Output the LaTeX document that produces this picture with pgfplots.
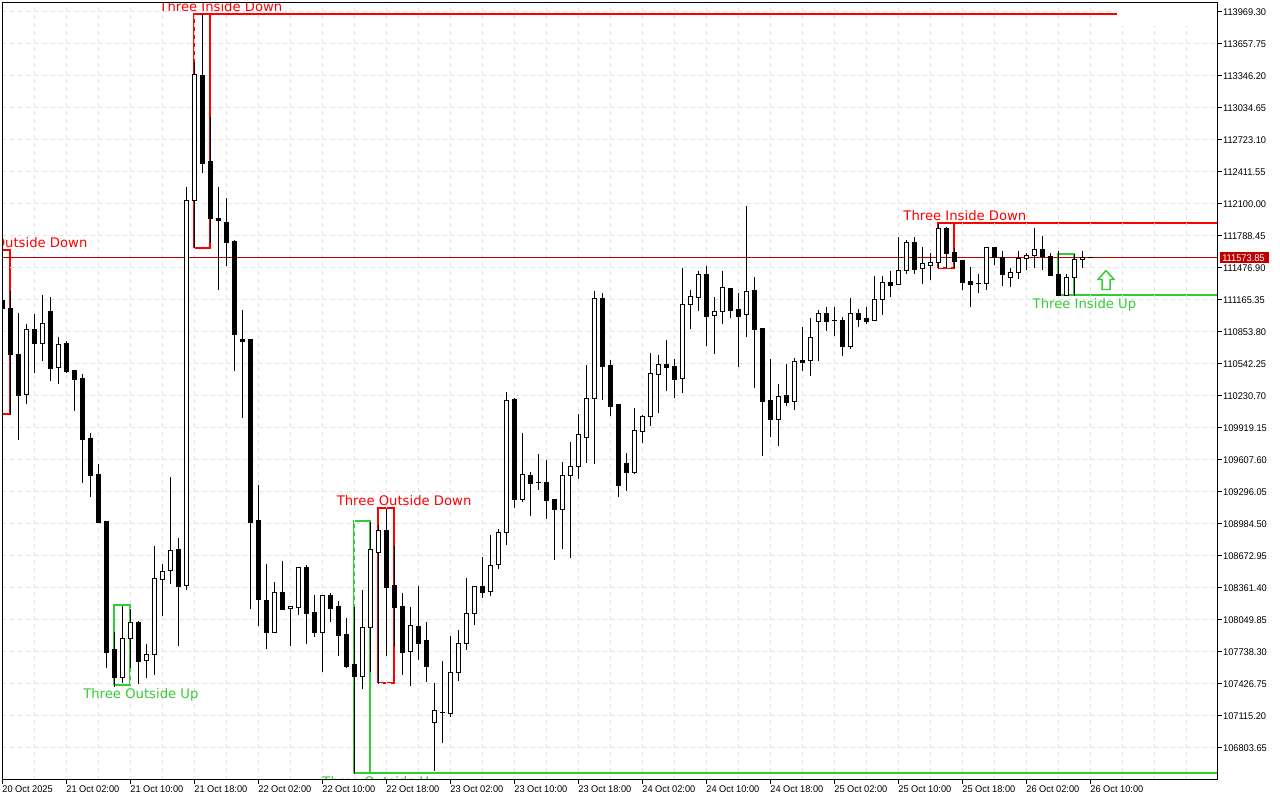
\documentclass[border=0pt]{standalone}
\usepackage{pgfplots}
\usepackage{pgfplotstable}
\usepackage{fontspec}
\pgfplotsset{compat=1.18}
\setmainfont{Liberation Sans}[FakeStretch=0.95]
\newfontfamily\pat{DejaVu Sans}
\definecolor{lime}{HTML}{32CD32}
\definecolor{bid}{HTML}{C00000}
\definecolor{gridc}{HTML}{E2E2E2}
% columns: hour index, upper body, lower body, high, low
\pgfplotstableread{
k t b h l
3 110873.3 110240.4 110922.0 110152.8
5 110931.7 110737.0 111214.0 110571.4
7 110727.2 110503.2 110805.1 110347.5
15 107864.8 107485.1 108186.1 107436.4
16 108020.6 107864.8 108156.9 107582.4
18 107709.1 107650.6 107816.2 107485.1
19 108449.0 107709.1 108770.3 107514.4
20 108517.2 108439.2 108595.0 108088.8
21 108721.6 108526.9 109442.1 108400.3
23 112129.2 108380.8 112265.5 108341.9
24 113356.0 112129.2 113482.5 111661.9
34 108312.7 107923.2 108419.8 107923.2
36 108176.4 108156.9 108176.4 107796.7
37 108556.0 108166.6 108565.7 108098.5
40 108283.5 107923.2 108283.5 107543.6
45 107971.9 107494.9 108341.9 107378.0
46 108731.3 107971.9 109003.9 107543.6
47 108916.3 108702.1 108974.7 107426.7
51 107991.4 107738.3 108176.4 107407.2
54 107163.8 107047.0 107436.4 106579.7
56 107533.8 107134.6 107894.0 107105.4
57 107816.2 107533.8 107952.5 107455.9
58 108108.2 107816.2 108458.7 107757.7
59 108371.1 108108.2 108371.1 108001.1
61 108575.4 108322.4 108877.4 108283.5
62 108896.8 108585.3 108935.8 108546.3
63 110182.0 108896.8 110269.6 108780.0
65 109461.6 109218.1 109870.4 109198.7
70 109451.8 109120.8 109588.1 108741.1
71 109539.3 109451.8 109782.8 108653.4
72 109851.0 109539.3 110055.4 109422.6
73 110201.5 109821.8 110532.5 109578.4
74 111175.1 110201.5 111243.3 109568.6
79 109889.9 109481.0 110113.8 109471.3
80 110026.2 109880.2 110045.7 109773.1
81 110444.9 110026.2 110649.3 109938.6
82 110532.5 110435.2 110620.2 110065.2
85 111116.7 110396.1 111476.8 110259.9
86 111194.5 111116.7 111262.7 110873.3
87 111408.8 111184.8 111447.7 111058.2
89 111048.5 111009.5 111194.5 110639.6
90 111282.2 111048.5 111438.0 110931.7
93 111243.3 111019.3 112080.5 110805.1
97 110220.9 109997.0 110347.5 109743.9
99 110561.7 110172.3 110600.6 110094.4
101 110795.4 110571.4 110990.1 110425.4
102 111029.0 110951.2 111068.0 110571.4
106 111029.0 110707.8 111184.8 110688.3
109 111165.3 110961.0 111399.0 110951.2
110 111330.8 111165.3 111399.0 111019.3
112 111447.7 111311.4 111769.0 111311.4
113 111720.3 111447.7 111749.5 111418.5
115 111515.8 111467.2 111681.3 111321.1
116 111525.6 111496.2 111622.9 111360.0
117 111856.6 111525.6 111905.3 111467.2
123 111671.6 111321.1 111681.3 111253.0
126 111428.2 111379.5 111467.2 111282.2
127 111564.5 111428.2 111642.4 111369.8
128 111593.7 111564.5 111622.9 111457.4
129 111652.1 111593.7 111866.3 111476.8
133 111379.5 111204.3 111408.8 111204.3
134 111554.8 111379.5 111603.5 111204.3
135 111574.2 111554.8 111632.7 111476.8
}\upc
\pgfplotstableread{
k t b h l
0 111155.6 111077.7 111194.5 111038.8
1 111077.7 110629.9 111253.0 110045.7
2 110629.9 110230.7 111038.8 109802.3
4 110873.3 110737.0 111029.0 110454.6
6 111048.5 110493.5 111194.5 110376.7
8 110737.0 110464.4 110766.2 110454.6
9 110474.1 110386.4 110483.8 110084.6
10 110396.1 109802.3 110435.2 109383.6
11 109812.0 109451.8 109870.4 109247.3
12 109461.6 108994.2 109568.6 108994.2
13 109003.9 107728.5 109003.9 107582.4
14 107757.7 107485.1 107933.0 107397.5
17 108020.6 107640.9 108040.1 107426.7
22 108731.3 108371.1 108848.2 107796.7
25 113346.2 112489.4 113940.1 112392.1
26 112508.9 111954.0 112947.0 111720.3
27 111954.0 111934.5 112265.5 111262.7
28 111915.0 111720.3 112148.7 111496.2
29 111730.0 110824.6 111749.5 110464.4
30 110775.9 110756.4 111068.0 110016.5
31 110775.9 108994.2 110775.9 108156.9
32 109013.7 108244.6 109364.2 107991.4
33 108234.8 107923.2 108595.0 107767.5
35 108312.7 108147.2 108624.2 108147.2
38 108556.0 108108.2 108585.3 107816.2
39 108118.0 107923.2 108293.2 107884.3
41 108283.5 108156.9 108312.7 108030.3
42 108176.4 107894.0 108234.8 107699.3
43 107903.8 107592.1 108069.3 107582.4
44 107611.7 107494.9 108176.4 106550.5
48 108916.3 108361.4 109130.5 107699.3
49 108380.8 108166.6 108770.3 107796.7
50 108176.4 107728.5 108312.7 107514.4
52 107981.7 107816.2 108380.8 107660.3
53 107845.4 107592.1 108030.3 107446.2
55 107144.4 107144.4 107650.6 106852.3
60 108371.1 108312.7 108663.2 108264.0
64 110191.7 109218.1 110211.2 109140.2
66 109451.8 109373.9 109490.8 109062.4
67 109383.6 109383.6 109666.0 109315.5
68 109383.6 109208.4 109607.6 109033.2
69 109218.1 109120.8 109218.1 108634.0
75 111175.1 110512.9 111233.5 110191.7
76 110522.6 110123.6 110581.2 110036.0
77 110143.1 109354.4 110143.1 109247.3
78 109568.6 109481.0 109675.7 109305.8
83 110532.5 110503.2 110775.9 110279.4
84 110512.9 110386.4 110590.9 110211.2
88 111408.8 110999.8 111496.2 110717.5
91 111272.4 111058.2 111272.4 110990.1
92 111068.0 110999.8 111233.5 110512.9
94 111253.0 110873.3 111389.3 110308.6
95 110883.0 110172.3 110883.0 109646.5
96 110182.0 109997.0 110590.9 109831.5
98 110230.7 110162.5 110542.2 110133.3
100 110571.4 110551.9 110902.5 110464.4
103 111029.0 110951.2 111087.5 110863.5
104 110961.0 110961.0 111087.5 110814.8
105 110961.0 110707.8 110999.8 110610.5
107 111029.0 110970.7 111077.7 110892.8
108 110980.5 110951.2 111087.5 110922.0
111 111330.8 111301.6 111447.7 111194.5
114 111720.3 111457.4 111778.7 111418.5
118 111856.6 111613.2 111876.1 111467.2
119 111622.9 111535.3 111671.6 111467.2
120 111545.0 111330.8 111545.0 111262.7
121 111340.6 111311.4 111486.5 111087.5
122 111321.1 111321.1 111408.8 111223.8
124 111671.6 111574.2 111681.3 111506.1
125 111574.2 111408.8 111642.4 111301.6
130 111652.1 111584.0 111788.4 111457.4
131 111584.0 111399.0 111622.9 111399.0
132 111408.8 111204.3 111642.4 111204.3
136 111574.2 111574.2 111574.2 111574.2
}\downc
\def\Ymin{106492.13}
\def\Ymax{114056.92}
\begin{document}
\begin{tikzpicture}[x=1pt,y=1pt]
\useasboundingbox (0,0) rectangle (960,600);
\fill[white] (0,0) rectangle (960,600);
\begin{axis}[
  at={(1.875pt,15.375pt)}, anchor=south west,
  scale only axis, width=911.25pt, height=582.75pt,
  xmin=0, xmax=151.875, ymin=\Ymin, ymax=\Ymax,
  axis on top,
  axis line style={black,line width=0.75pt},
  tick style={black,line width=0.75pt},
  major tick length=3pt, tick align=outside,
  xtick pos=bottom, ytick pos=right,
  xtick={0,8,16,24,32,40,48,56,64,72,80,88,96,104,112,120,128,136},
  xticklabels={20 Oct 2025,21 Oct 02:00,21 Oct 10:00,21 Oct 18:00,22 Oct 02:00,22 Oct 10:00,22 Oct 18:00,23 Oct 02:00,23 Oct 10:00,23 Oct 18:00,24 Oct 02:00,24 Oct 10:00,24 Oct 18:00,25 Oct 02:00,25 Oct 10:00,25 Oct 18:00,26 Oct 02:00,26 Oct 10:00},
  ytick={113969.30,113657.75,113346.20,113034.65,112723.10,112411.55,112100.00,111788.45,111476.90,111165.35,110853.80,110542.25,110230.70,109919.15,109607.60,109296.05,108984.50,108672.95,108361.40,108049.85,107738.30,107426.75,107115.20,106803.65},
  yticklabels={113969.30,113657.75,113346.20,113034.65,112723.10,112411.55,112100.00,111788.45,111476.90,111165.35,110853.80,110542.25,110230.70,109919.15,109607.60,109296.05,108984.50,108672.95,108361.40,108049.85,107738.30,107426.75,107115.20,106803.65},
  xticklabel style={anchor=north west,inner sep=0pt,xshift=-0.3pt,yshift=-1.2pt,font=\fontsize{7.3pt}{8pt}\selectfont},
  yticklabel style={anchor=west,inner sep=0pt,xshift=1pt,yshift=-0.6pt,font=\fontsize{7.3pt}{8pt}\selectfont},
  unbounded coords=jump,
]
% pattern objects
\pgfplotsset{obj/.style={forget plot,line width=1.5pt,line join=miter,mark=none}}
\addplot[obj,red] coordinates {(-1,111647.3)(0.9375,111647.3)(0.9375,110050.6)(-1,110050.6)};
\addplot[obj,red] coordinates {(23.9375,111666.8)(23.9375,113945.0)(139.3,113945.0)};
\addplot[obj,red] coordinates {(23.9375,111666.8)(25.9375,111666.8)(25.9375,113945.0)};
\addplot[obj,lime] coordinates {(13.9375,107412.1)(13.9375,108191.0)(15.9375,108191.0)(15.9375,107412.1)(13.9375,107412.1)};
\addplot[obj,red] coordinates {(46.9375,107431.6)(46.9375,109135.4)(48.9375,109135.4)(48.9375,107431.6)(46.9375,107431.6)};
\addplot[obj,lime] coordinates {(43.9375,106555.4)(43.9375,109008.8)(45.9375,109008.8)(45.9375,106555.4)};
\addplot[obj,lime] coordinates {(43.9375,106555.4)(151.875,106555.4)};
\addplot[obj,red] coordinates {(116.9375,111472.1)(116.9375,111910.2)(151.875,111910.2)};
\addplot[obj,red] coordinates {(116.9375,111472.1)(118.9375,111472.1)(118.9375,111910.2)};
\addplot[obj,lime] coordinates {(131.9375,111209.2)(131.9375,111608.4)(133.9375,111608.4)(133.9375,111209.2)(151.875,111209.2)};
\addplot[obj,lime] coordinates {(131.9375,111209.2)(133.9375,111209.2)};
\addplot[forget plot,lime,fill=white,line width=1.1pt,line join=miter] coordinates {(137.9375,111447.7)(138.9375,111360.0)(138.4375,111360.0)(138.4375,111262.7)(137.4375,111262.7)(137.4375,111360.0)(136.9375,111360.0)(137.9375,111447.7)};
% grid
\pgfplotsset{gl/.style={forget plot,gridc,line width=0.75pt,dash pattern=on 3pt off 3pt,mark=none}}
\pgfplotsinvokeforeach{4,8,...,136}{\addplot[gl] coordinates {(#1,\Ymin)(#1,\Ymax)};}
\pgfplotsinvokeforeach{140,144,148}{\addplot[gl] coordinates {(#1,\Ymin)(#1,113823.3)};}
\addplot[gl] coordinates {(0,113969.30)(139.3,113969.30)};
\pgfplotsinvokeforeach{113657.75,113346.20,113034.65,112723.10,112411.55,112100.00,111788.45,111476.90,111165.35,110853.80,110542.25,110230.70,109919.15,109607.60,109296.05,108984.50,108672.95,108361.40,108049.85,107738.30,107426.75,107115.20,106803.65}{\addplot[gl] coordinates {(0,#1)(151.875,#1)};}
% bid line
\addplot[forget plot,bid,line width=0.75pt] coordinates {(0,111573.85)(151.875,111573.85)};
% wicks
\pgfplotsset{bar/.style 2 args={forget plot,draw=none,mark=none,error bars/.cd,y dir=plus,y explicit,error mark=none,error bar style={#1,line width=#2,line cap=butt}}}
\addplot[bar={black}{0.75pt}] table[x=k,y=l,y error plus expr=\thisrow{h}-\thisrow{l}] {\upc};
\addplot[bar={black}{0.75pt}] table[x=k,y=l,y error plus expr=\thisrow{h}-\thisrow{l}] {\downc};
% bodies
\addplot[bar={black}{3.75pt}] table[x=k,y expr=\thisrow{b}-4.87,y error plus expr=\thisrow{t}-\thisrow{b}+9.74] {\downc};
\addplot[bar={black}{3.75pt}] table[x=k,y expr=\thisrow{b}-4.87,y error plus expr=\thisrow{t}-\thisrow{b}+9.74] {\upc};
\addplot[bar={white}{2.25pt}] table[x=k,y expr=\thisrow{b}+4.87,y error plus expr=\thisrow{t}-\thisrow{b}-9.74] {\upc};
% labels
\tikzset{lab/.style={font=\pat\fontsize{9.9pt}{10pt}\selectfont,inner sep=0pt,anchor=center,text depth=0pt}}
\node[lab,red] at (axis cs:27.3,114018) {Three Inside Down};
\node[lab,red] at (axis cs:2.2,111720.3) {Three Outside Down};
\node[lab,lime] at (axis cs:17.3,107329.4) {Three Outside Up};
\node[lab,red] at (axis cs:50.2,109208.4) {Three Outside Down};
\node[lab,lime] at (axis cs:47.2,106472.6) {Three Outside Up};
\node[lab,red] at (axis cs:120.3,111983.2) {Three Inside Down};
\node[lab,lime] at (axis cs:135.25,111126.4) {Three Inside Up};
\end{axis}
% bid price tag: x 1220-1269, rows 252-263
\fill[bid] (915,402.75) rectangle (951.75,411);
\node[white,anchor=west,inner sep=0pt,font=\fontsize{7.3pt}{8pt}\selectfont] at (916.5,406.5) {111573.85};
\end{tikzpicture}
\end{document}
